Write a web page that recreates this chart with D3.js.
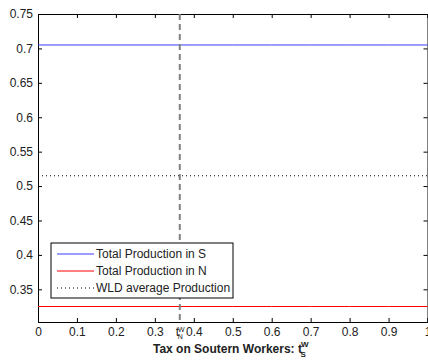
<!DOCTYPE html>
<html>
<head>
<meta charset="utf-8">
<script src="https://cdn.jsdelivr.net/npm/d3@7"></script>
<style>
  body { margin: 0; background: #fff; }
  svg { font-family: "Liberation Sans", Arial, sans-serif; }
</style>
</head>
<body>
<svg width="428" height="360"></svg>
<script>
// data
const taxGrid = [0, 0.1, 0.2, 0.3, 0.4, 0.5, 0.6, 0.7, 0.8, 0.9, 1];
const prodS = [0.705, 0.705, 0.705, 0.705, 0.705, 0.705, 0.705, 0.705, 0.705, 0.705, 0.705];
const prodN = [0.325, 0.325, 0.325, 0.325, 0.325, 0.325, 0.325, 0.325, 0.325, 0.325, 0.325];
const wldAvg = [0.515, 0.515, 0.515, 0.515, 0.515, 0.515, 0.515, 0.515, 0.515, 0.515, 0.515];
const tNw = 0.364;
const xTicks = [0, 0.1, 0.2, 0.3, 0.4, 0.5, 0.6, 0.7, 0.8, 0.9, 1];
const yTicks = [0.35, 0.4, 0.45, 0.5, 0.55, 0.6, 0.65, 0.7, 0.75];
const legendLabels = ["Total Production in S", "Total Production in N", "WLD average Production"];

const svg = d3.select("svg");
const margin = { top: 14, right: 0, bottom: 38, left: 38 };
const width = 389.5;
const height = 360 - margin.top - margin.bottom;
const g = svg.append("g").attr("transform", `translate(${margin.left},${margin.top})`);

const x = d3.scaleLinear().domain([0, 1]).range([0, width]);
const y = d3.scaleLinear().domain([0.3025, 0.75]).range([height, 0]);

const line = d3.line()
    .x((d, i) => x(taxGrid[i]))
    .y(d => y(d));

// axes with inward ticks (MATLAB style)
const fmt = d => d3.format("")(+d.toFixed(2));
g.append("g")
    .attr("class", "x-axis")
    .attr("transform", `translate(0,${height})`)
    .call(d3.axisBottom(x).tickValues(xTicks).tickSize(-4).tickPadding(5).tickFormat(fmt));
g.append("g")
    .attr("class", "x-top")
    .call(d3.axisTop(x).tickValues(xTicks).tickSize(-4).tickFormat(""));
g.append("g")
    .attr("class", "y-axis")
    .call(d3.axisLeft(y).tickValues(yTicks).tickSize(-4).tickPadding(5).tickFormat(fmt));
g.append("g")
    .attr("class", "y-right")
    .attr("transform", `translate(${width},0)`)
    .call(d3.axisRight(y).tickValues(yTicks).tickSize(-4).tickFormat(""));

g.selectAll(".domain").attr("stroke", "#000");
g.selectAll(".tick line").attr("stroke", "#000");
g.selectAll(".tick text").attr("font-size", "12px").attr("fill", "#222");

// data lines
g.append("path")
    .attr("fill", "none")
    .attr("stroke", "#3a3aff")
    .attr("stroke-width", 1)
    .attr("d", line(prodS));
g.append("path")
    .attr("fill", "none")
    .attr("stroke", "#ff0000")
    .attr("stroke-width", 1)
    .attr("d", line(prodN));
g.append("path")
    .attr("fill", "none")
    .attr("stroke", "#000")
    .attr("stroke-width", 1)
    .attr("stroke-dasharray", "1,3")
    .attr("d", line(wldAvg));

// vertical dashed marker
g.append("line")
    .attr("x1", x(tNw)).attr("x2", x(tNw))
    .attr("y1", 0).attr("y2", height)
    .attr("stroke", "#808080")
    .attr("stroke-width", 2)
    .attr("stroke-dasharray", "6,4");

// t_N^w label under the axis
const tl = g.append("text")
    .attr("x", x(tNw) - 4)
    .attr("y", height + 14)
    .attr("font-size", "12px")
    .attr("fill", "#222");
tl.append("tspan").text("t");
tl.append("tspan").attr("font-size", "7px").attr("dx", -1).attr("dy", -4).text("W");
tl.append("tspan").attr("font-size", "7px").attr("dx", -7).attr("dy", 7).text("N");

// legend
const legend = g.append("g").attr("transform", "translate(13,229)");
legend.append("rect")
    .attr("width", 182)
    .attr("height", 55)
    .attr("fill", "#fff")
    .attr("stroke", "#000");
const legendStyles = [
    { stroke: "#3a3aff", dash: null },
    { stroke: "#ff0000", dash: null },
    { stroke: "#000", dash: "1,3" }
];
const item = legend.selectAll(".legend")
    .data(legendLabels)
    .enter().append("g")
    .attr("class", "legend")
    .attr("transform", (d, i) => `translate(0,${11 + i * 17})`);
item.append("line")
    .attr("x1", 6).attr("x2", 43)
    .attr("stroke", (d, i) => legendStyles[i].stroke)
    .attr("stroke-dasharray", (d, i) => legendStyles[i].dash);
item.append("text")
    .attr("x", 45)
    .attr("dy", "0.35em")
    .attr("font-size", "12px")
    .attr("fill", "#222")
    .text(d => d);

// x axis label
const xl = svg.append("text")
    .attr("x", 153)
    .attr("y", 353)
    .attr("font-size", "12px")
    .attr("font-weight", "bold")
    .attr("fill", "#222");
xl.append("tspan").text("Tax on Soutern Workers: t");
xl.append("tspan").attr("font-size", "8px").attr("dx", -1).attr("dy", -6).text("W");
xl.append("tspan").attr("font-size", "8px").attr("dx", -8).attr("dy", 10).text("S");
</script>
</body>
</html>
